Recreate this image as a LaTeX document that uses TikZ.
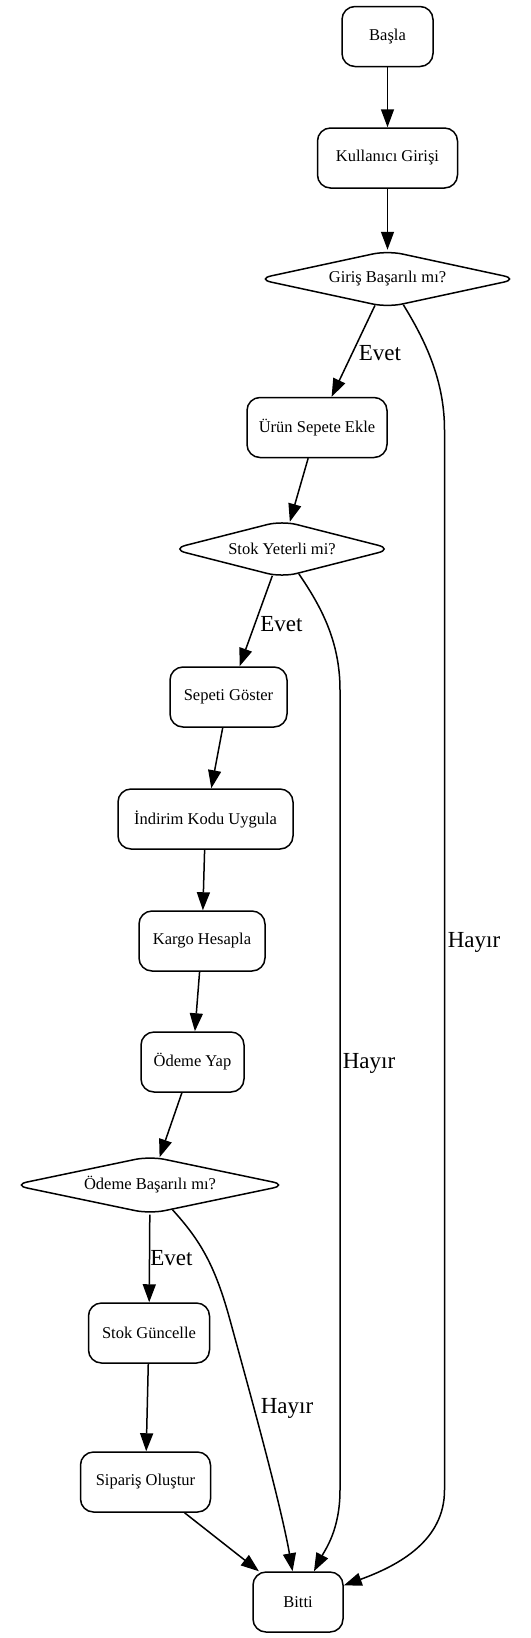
\documentclass[tikz,border=0pt]{standalone}
\usepackage{fontspec}
\setmainfont{Liberation Serif}
\usetikzlibrary{shapes.geometric,arrows.meta}
\begin{document}
\begin{tikzpicture}[x=1pt,y=-1pt,
  box/.style={draw, line width=1.5pt, rounded corners=13pt, minimum height=60pt, inner sep=0pt, font=\fontsize{16.5}{19}\selectfont},
  dec/.style={draw, shape=diamond, line width=1.5pt, rounded corners=15pt, minimum height=57pt, inner sep=0pt, aspect=4.6, font=\fontsize{16.5}{19}\selectfont},
  arr/.style={line width=1.5pt, -{Triangle[length=18pt,width=13pt]}},
  lbl/.style={font=\fontsize{23}{26}\selectfont, inner sep=0pt}]
\fill[white] (0,0) rectangle (530,1638);
\useasboundingbox (0,0) rectangle (530,1638);

\node[box, minimum width=91pt] (basla) at (387.5,36.5) {Başla};
\node[box, minimum width=140pt] (kg) at (387.5,158) {Kullanıcı Girişi};
\node[dec, minimum width=262pt] (giris) at (387.5,279) {Giriş Başarılı mı?};
\node[box, minimum width=140pt] (urun) at (317,427.5) {Ürün Sepete Ekle};
\node[dec, minimum width=222pt, aspect=3.9] (stok) at (282,549) {Stok Yeterli mi?};
\node[box, minimum width=117pt] (sepet) at (228.5,697) {Sepeti Göster};
\node[box, minimum width=175pt] (indirim) at (205.5,819) {İndirim Kodu Uygula};
\node[box, minimum width=126pt] (kargo) at (202,941) {Kargo Hesapla};
\node[box, minimum width=103pt] (odeme) at (192.5,1062) {Ödeme Yap};
\node[dec, minimum width=275pt, minimum height=58pt] (odemeb) at (150,1185) {Ödeme Başarılı mı?};
\node[box, minimum width=121pt] (stokg) at (149,1333) {Stok Güncelle};
\node[box, minimum width=130pt] (siparis) at (145.5,1482) {Sipariş Oluştur};
\node[box, minimum width=90pt] (bitti) at (298,1602) {Bitti};

\draw[arr] (basla) -- (kg);
\draw[arr] (kg) -- (giris);
\draw[arr] (giris) -- (urun);
\draw[arr] (urun) -- (stok);
\draw[arr] (stok) -- (sepet);
\draw[arr] (sepet) -- (indirim);
\draw[arr] (indirim) -- (kargo);
\draw[arr] (kargo) -- (odeme);
\draw[arr] (odeme) -- (odemeb);
\draw[arr] (odemeb) -- (stokg);
\draw[arr] (stokg) -- (siparis);
\draw[arr] (siparis) -- (bitti);

\draw[arr] (giris) .. controls (425,340) and (444.5,380) .. (444.5,430)
  -- (444.5,1490) .. controls (444.5,1540) and (400,1565) .. (bitti);
\draw[arr] (stok) .. controls (320,605) and (340,640) .. (340,690)
  -- (340,1490) .. controls (340,1530) and (325,1550) .. (bitti);
\draw[arr] (odemeb) .. controls (200,1240) and (215,1265) .. (230,1320)
  .. controls (245,1375) and (280,1500) .. (bitti);

\node[lbl] (l1) at (380,353) {Evet};
\node[lbl] (l2) at (474,942) {Hayır};
\node[lbl] (l3) at (281.5,624) {Evet};
\node[lbl] (l4) at (369,1063) {Hayır};
\node[lbl] (l5) at (171.5,1258) {Evet};
\node[lbl] (l6) at (287,1408) {Hayır};
\end{tikzpicture}
\end{document}
